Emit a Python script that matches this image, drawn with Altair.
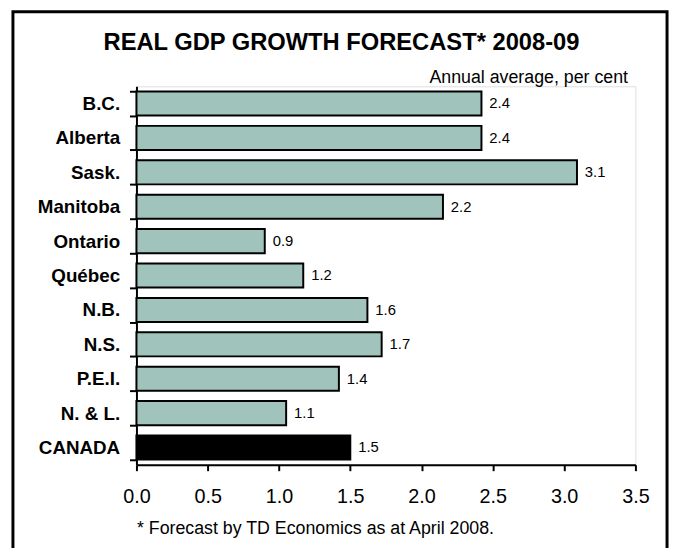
import altair as alt
import pandas as pd

regions = ["B.C.", "Alberta", "Sask.", "Manitoba", "Ontario", "Québec",
           "N.B.", "N.S.", "P.E.I.", "N. & L.", "CANADA"]
growth = [2.42, 2.42, 3.09, 2.15, 0.9, 1.17, 1.62, 1.72, 1.42, 1.05, 1.5]
labels = ["2.4", "2.4", "3.1", "2.2", "0.9", "1.2", "1.6", "1.7", "1.4", "1.1", "1.5"]
kind = ["Province"] * 10 + ["Canada"]
x_ticks = [0.0, 0.5, 1.0, 1.5, 2.0, 2.5, 3.0, 3.5]

title_text = "REAL GDP GROWTH FORECAST* 2008-09"
units_text = "Annual average, per cent"
note_text = "* Forecast by TD Economics as at April 2008."

df = pd.DataFrame({"region": regions, "growth": growth, "label": labels, "kind": kind})

FONT = "Liberation Sans"
W, H = 505, 383

y_enc = alt.Y(
    "region:N", sort=regions,
    scale=alt.Scale(paddingInner=0.3, paddingOuter=0.15),
    axis=alt.Axis(
        title=units_text, titleAngle=0, titleX=497, titleY=-4,
        titleAlign="right", titleBaseline="alphabetic",
        titleFontSize=18, titleFontWeight="normal", titleColor="black", titleFont=FONT,
        labelFontSize=19, labelFontWeight="bold", labelColor="black", labelFont=FONT,
        labelPadding=10, tickSize=7, tickWidth=2, tickColor="black",
        tickBand="extent", domainColor="black", domainWidth=2,
    ),
)

x_enc = alt.X(
    "growth:Q",
    scale=alt.Scale(domain=[0, 3.5], nice=False, zero=True),
    axis=alt.Axis(
        values=x_ticks, format=".1f", grid=False,
        title=note_text, titleX=0, titleY=70, titleAlign="left",
        titleAnchor="start", titleBaseline="alphabetic",
        titleFontSize=18, titleFontWeight="normal", titleColor="black", titleFont=FONT,
        labelFontSize=20, labelColor="black", labelFont=FONT,
        labelBaseline="top", labelPadding=16, labelFlush=False,
        tickSize=6, tickWidth=2, tickColor="black",
        domainColor="black", domainWidth=2,
    ),
)

bars = alt.Chart(df).mark_bar(stroke="black", strokeWidth=2).encode(
    x=x_enc,
    y=y_enc,
    color=alt.Color("kind:N", scale=alt.Scale(domain=["Province", "Canada"],
                                              range=["#A0C4BC", "#000000"]), legend=None),
)

values = alt.Chart(df).mark_text(
    align="left", baseline="middle", dx=8, fontSize=15, font=FONT, color="black"
).encode(
    x="growth:Q",
    y=alt.Y("region:N", sort=regions),
    text="label:N",
)

title_df = pd.DataFrame({"t": [title_text]})
title = alt.Chart(title_df).mark_text(
    align="center", baseline="alphabetic", fontSize=24, fontWeight="bold",
    font=FONT, color="black"
).encode(x=alt.value(207.5), y=alt.value(-37), text="t:N")

frame_df = pd.DataFrame({"f": [0]})
frame = alt.Chart(frame_df).mark_rect(
    fill="white", fillOpacity=0, stroke="black", strokeWidth=3
).encode(x=alt.value(-125), x2=alt.value(537), y=alt.value(-75.5), y2=alt.value(490))

chart = alt.layer(frame, bars, values, title).properties(
    width=W, height=H,
    autosize=alt.AutoSizeParams(type="none"),
    padding={"left": 130, "top": 76, "right": 35, "bottom": 81},
).configure_view(
    stroke="black", strokeWidth=2
).configure(font=FONT, background="white")

chart.save("out.html", embed_options={"renderer": "svg", "actions": False})
